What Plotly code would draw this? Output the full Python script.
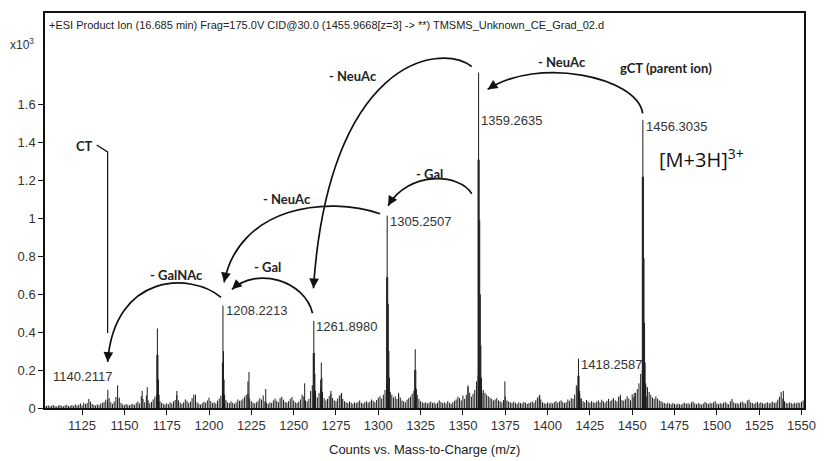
import plotly.graph_objects as go

# ---------------- data (intensity in counts; axis shows x10^3) ----------------
noise_start_mz = 1103          # baseline samples, one per Da
noise_counts = [
    8, 11, 14, 9, 12, 16, 10, 8, 13, 15, 11, 9, 14, 17, 10, 12, 15, 11, 19, 13, 17, 24, 15, 28, 21,
    26, 48, 33, 21, 16, 13, 19, 15, 22, 27, 31, 44, 38, 52, 30, 22, 34, 58, 46, 55, 27, 19, 15, 21, 17,
    14, 18, 22, 16, 27, 35, 24, 62, 48, 30, 66, 40, 25, 32, 45, 60, 70, 58, 36, 28, 22, 18, 25, 20, 30,
    24, 35, 42, 68, 40, 28, 22, 30, 45, 38, 26, 34, 52, 70, 44, 30, 22, 18, 25, 33, 28, 40, 55, 36, 26,
    30, 24, 38, 50, 65, 80, 60, 42, 30, 26, 35, 28, 22, 30, 45, 38, 40, 48, 60, 70, 75, 50, 36, 28, 24,
    30, 38, 52, 44, 66, 35, 28, 22, 30, 26, 40, 50, 38, 30, 52, 60, 44, 32, 28, 36, 48, 58, 40, 30, 26,
    34, 45, 70, 62, 40, 35, 48, 90, 120, 95, 70, 55, 80, 110, 85, 52, 40, 48, 62, 74, 52, 40, 36, 50, 66,
    72, 48, 36, 30, 26, 34, 28, 22, 30, 26, 32, 40, 28, 24, 30, 36, 28, 34, 45, 38, 30, 42, 55, 62, 50,
    70, 95, 130, 110, 85, 70, 55, 62, 48, 70, 55, 40, 36, 30, 44, 52, 60, 75, 90, 110, 70, 48, 36, 30, 26,
    30, 24, 28, 34, 26, 30, 22, 28, 40, 32, 26, 30, 24, 36, 28, 22, 30, 38, 45, 60, 52, 40, 66, 48, 70,
    110, 80, 60, 75, 95, 140, 170, 150, 120, 95, 80, 70, 62, 55, 48, 40, 45, 52, 40, 36, 30, 42, 60, 40, 34,
    30, 26, 34, 28, 22, 30, 26, 24, 32, 28, 22, 26, 30, 34, 28, 40, 55, 62, 45, 30, 26, 22, 30, 24, 28,
    24, 30, 36, 28, 34, 40, 32, 26, 30, 45, 38, 52, 48, 70, 120, 110, 75, 50, 36, 30, 42, 34, 28, 36, 30,
    26, 34, 40, 30, 44, 36, 28, 38, 48, 36, 44, 52, 40, 34, 60, 56, 42, 38, 46, 62, 50, 40, 72, 58, 80,
    100, 130, 180, 200, 160, 130, 110, 85, 70, 55, 48, 62, 50, 40, 36, 30, 26, 22, 28, 24, 20, 26, 22, 18, 24,
    20, 18, 24, 28, 22, 26, 20, 30, 34, 24, 20, 26, 22, 18, 24, 32, 26, 22, 28, 24, 30, 36, 24, 20, 26,
    22, 28, 32, 24, 20, 36, 48, 30, 24, 26, 22, 30, 34, 28, 24, 40, 44, 30, 26, 22, 28, 32, 24, 30, 26,
    22, 26, 30, 24, 28, 34, 26, 30, 44, 60, 85, 50, 36, 28, 24, 30, 26, 22, 28, 24, 30, 26, 34, 40, 30,
]

minor_mz = [1140.21, 1146.0, 1160.5, 1163.5, 1181.0, 1192.0, 1223.0, 1223.6, 1233.5,
            1256.5, 1272.0, 1278.3, 1312.0, 1353.0, 1374.8, 1395.4, 1443.0, 1451.2, 1539.3]
minor_counts = [96, 120, 90, 110, 90, 70, 140, 190, 100,
                130, 90, 80, 80, 120, 140, 70, 70, 80, 90]

cluster_mz = [
    1169.17, 1169.50, 1169.83, 1170.17, 1170.50,
    1207.89, 1208.22, 1208.55, 1208.89, 1209.22,
    1261.56, 1261.90, 1262.23, 1262.56, 1262.90,
    1266.00, 1266.33, 1266.67, 1267.00,
    1304.92, 1305.25, 1305.58, 1305.92, 1306.25, 1306.58, 1306.92,
    1321.50, 1321.83, 1322.17, 1322.50,
    1358.93, 1359.26, 1359.60, 1359.93, 1360.26, 1360.60, 1360.93, 1361.26,
    1417.92, 1418.26, 1418.59, 1418.92, 1419.26,
    1455.97, 1456.30, 1456.64, 1456.97, 1457.30, 1457.64, 1457.97, 1458.30,
]
cluster_counts = [
    280, 420, 280, 150, 70,
    240, 540, 300, 150, 70,
    290, 460, 290, 180, 90,
    150, 240, 160, 80,
    690, 1015, 690, 550, 300, 160, 80,
    200, 310, 200, 100,
    1310, 1770, 1310, 990, 600, 330, 160, 80,
    170, 260, 170, 90, 50,
    1220, 1520, 1220, 790, 450, 240, 120, 60,
]

peak_labels = ["1140.2117", "1208.2213", "1261.8980", "1305.2507",
               "1359.2635", "1418.2587", "1456.3035"]
label_mz = [1143.6, 1209.2, 1262.9, 1306.1, 1360.2, 1419.0, 1457.3]
label_y = [0.166, 0.516, 0.432, 0.983, 1.517, 0.227, 1.487]
label_anchor = ["right", "left", "left", "left", "left", "left", "left"]

x_ticks = [1125, 1150, 1175, 1200, 1225, 1250, 1275, 1300, 1325, 1350,
           1375, 1400, 1425, 1450, 1475, 1500, 1525, 1550]
y_ticks = [0, 0.2, 0.4, 0.6, 0.8, 1.0, 1.2, 1.4, 1.6]
y_tick_text = ["0", "0.2", "0.4", "0.6", "0.8", "1", "1.2", "1.4", "1.6"]

# fragment-loss arrows: (start, ctrl1, ctrl2, end) in (m/z, x10^3 counts)
arrows = [
    ((1207.1, 0.584), (1189.5, 0.716), (1144.2, 0.716), (1140.1, 0.243)),   # - GalNAc
    ((1261.15, 0.500), (1256.45, 0.673), (1228.25, 0.747), (1213.55, 0.626)),  # - Gal
    ((1301.1, 1.025), (1270.55, 1.120), (1217.7, 1.067), (1208.9, 0.663)),  # - NeuAc
    ((1355.2, 1.802), (1335.2, 1.933), (1270.55, 1.828), (1261.7, 0.632)),  # - NeuAc
    ((1355.2, 1.130), (1348.1, 1.240), (1317.55, 1.251), (1305.8, 1.067)),  # - Gal
    ((1456.2, 1.555), (1452.7, 1.750), (1393.9, 1.855), (1364.6, 1.681)),   # - NeuAc
]
ct_line_x = [1133.65, 1140.1, 1140.1]
ct_line_y = [1.387, 1.351, 0.396]

bold_texts = ["CT", "- NeuAc", "- NeuAc", "gCT (parent ion)", "- Gal", "- NeuAc", "- Gal", "- GalNAc"]
bold_x = [1126.6, 1285.2, 1408.6, 1469.7, 1330.5, 1245.9, 1234.7, 1180.7]
bold_y = [1.382, 1.750, 1.823, 1.792, 1.235, 1.104, 0.742, 0.700]

# ---------------- layout geometry ----------------
W, H = 827, 461
ML, MR, MT, MB = 45, 19, 11, 53
x_range = [1103.1, 1551.5]
y_range = [0, 2.084]
px_per_x = (W - ML - MR) / (x_range[1] - x_range[0])
px_per_y = (H - MT - MB) / (y_range[1] - y_range[0])


def sticks(mzs, counts):
    xs, ys = [], []
    for m, c in zip(mzs, counts):
        xs += [m, m, None]
        ys += [0, c / 1000.0, None]
    return xs, ys


noise_mz = [noise_start_mz + i for i in range(len(noise_counts))]
nx, ny = sticks(noise_mz, noise_counts)
mx, my = sticks(minor_mz, minor_counts)
cx, cy = sticks(cluster_mz, cluster_counts)

fig = go.Figure()
for xs, ys in [(nx, ny), (mx, my), (cx, cy)]:
    fig.add_trace(go.Scatter(x=xs, y=ys, mode="lines",
                             line=dict(color="#1c1c1c", width=1),
                             hoverinfo="skip", showlegend=False))

fig.add_trace(go.Scatter(x=ct_line_x, y=ct_line_y, mode="lines",
                         line=dict(color="#111", width=1.2),
                         hoverinfo="skip", showlegend=False))

shapes = []
annotations = []
for (s, c1, c2, e) in arrows:
    path = f"M {s[0]},{s[1]} C {c1[0]},{c1[1]} {c2[0]},{c2[1]} {e[0]},{e[1]}"
    shapes.append(dict(type="path", path=path, xref="x", yref="y",
                       line=dict(color="#111", width=1.7)))
    dxp = (c2[0] - e[0]) * px_per_x
    dyp = -(c2[1] - e[1]) * px_per_y
    n = (dxp ** 2 + dyp ** 2) ** 0.5
    annotations.append(dict(x=e[0], y=e[1], xref="x", yref="y", text="",
                            showarrow=True, ax=dxp / n * 9, ay=dyp / n * 9,
                            arrowhead=2, arrowsize=1.3, arrowwidth=1.5,
                            arrowcolor="#111", standoff=0))

for t, x, y, a in zip(peak_labels, label_mz, label_y, label_anchor):
    annotations.append(dict(x=x, y=y, xref="x", yref="y", text=t, showarrow=False,
                            xanchor=a, yanchor="middle", borderpad=0,
                            font=dict(family="Liberation Sans, Arial", size=13, color="#333")))

for t, x, y in zip(bold_texts, bold_x, bold_y):
    annotations.append(dict(x=x, y=y, xref="x", yref="y", text=f"<b>{t}</b>",
                            showarrow=False, xanchor="center", yanchor="middle",
                            font=dict(family="Lato", size=13, color="#222")))

annotations.append(dict(x=1464.4, y=1.314, xref="x", yref="y",
                        text="[M+3H]<sup>3+</sup>", showarrow=False,
                        xanchor="left", yanchor="middle",
                        font=dict(family="Open Sans", size=20, color="#111")))

annotations.append(dict(x=0, y=(H - MB - 23) / (H - MT - MB), xref="paper", yref="paper",
                        xshift=2, xanchor="left", yanchor="middle", showarrow=False,
                        text="+ESI Product Ion (16.685 min) Frag=175.0V CID@30.0 "
                             "(1455.9668[z=3] -> **) TMSMS_Unknown_CE_Grad_02.d",
                        font=dict(family="Liberation Sans, Arial", size=11, color="#222")))
annotations.append(dict(x=-0.030, y=(H - MB - 42) / (H - MT - MB), xref="paper", yref="paper",
                        xanchor="center", yanchor="middle", showarrow=False,
                        text="x10<sup>3</sup>",
                        font=dict(family="Liberation Sans, Arial", size=12, color="#333")))
annotations.append(dict(x=0.5, y=-(450 - (H - MB)) / (H - MT - MB), xref="paper", yref="paper",
                        xanchor="center", yanchor="middle", showarrow=False,
                        text="Counts vs. Mass-to-Charge (m/z)",
                        font=dict(family="Liberation Sans, Arial", size=13, color="#222")))

axis_common = dict(showgrid=False, zeroline=False, showline=True, linecolor="#111",
                   linewidth=1.5, mirror=True, ticks="outside", ticklen=5, tickwidth=1.3,
                   tickcolor="#111",
                   tickfont=dict(family="Liberation Sans, Arial", size=13, color="#333"))

fig.update_layout(
    width=W, height=H, margin=dict(l=ML, r=MR, t=MT, b=MB),
    paper_bgcolor="white", plot_bgcolor="white",
    xaxis=dict(range=x_range, tickvals=x_ticks, **axis_common),
    yaxis=dict(range=y_range, tickvals=y_ticks, ticktext=y_tick_text, **axis_common),
    shapes=shapes, annotations=annotations, showlegend=False,
)

fig.write_html("out.html")
